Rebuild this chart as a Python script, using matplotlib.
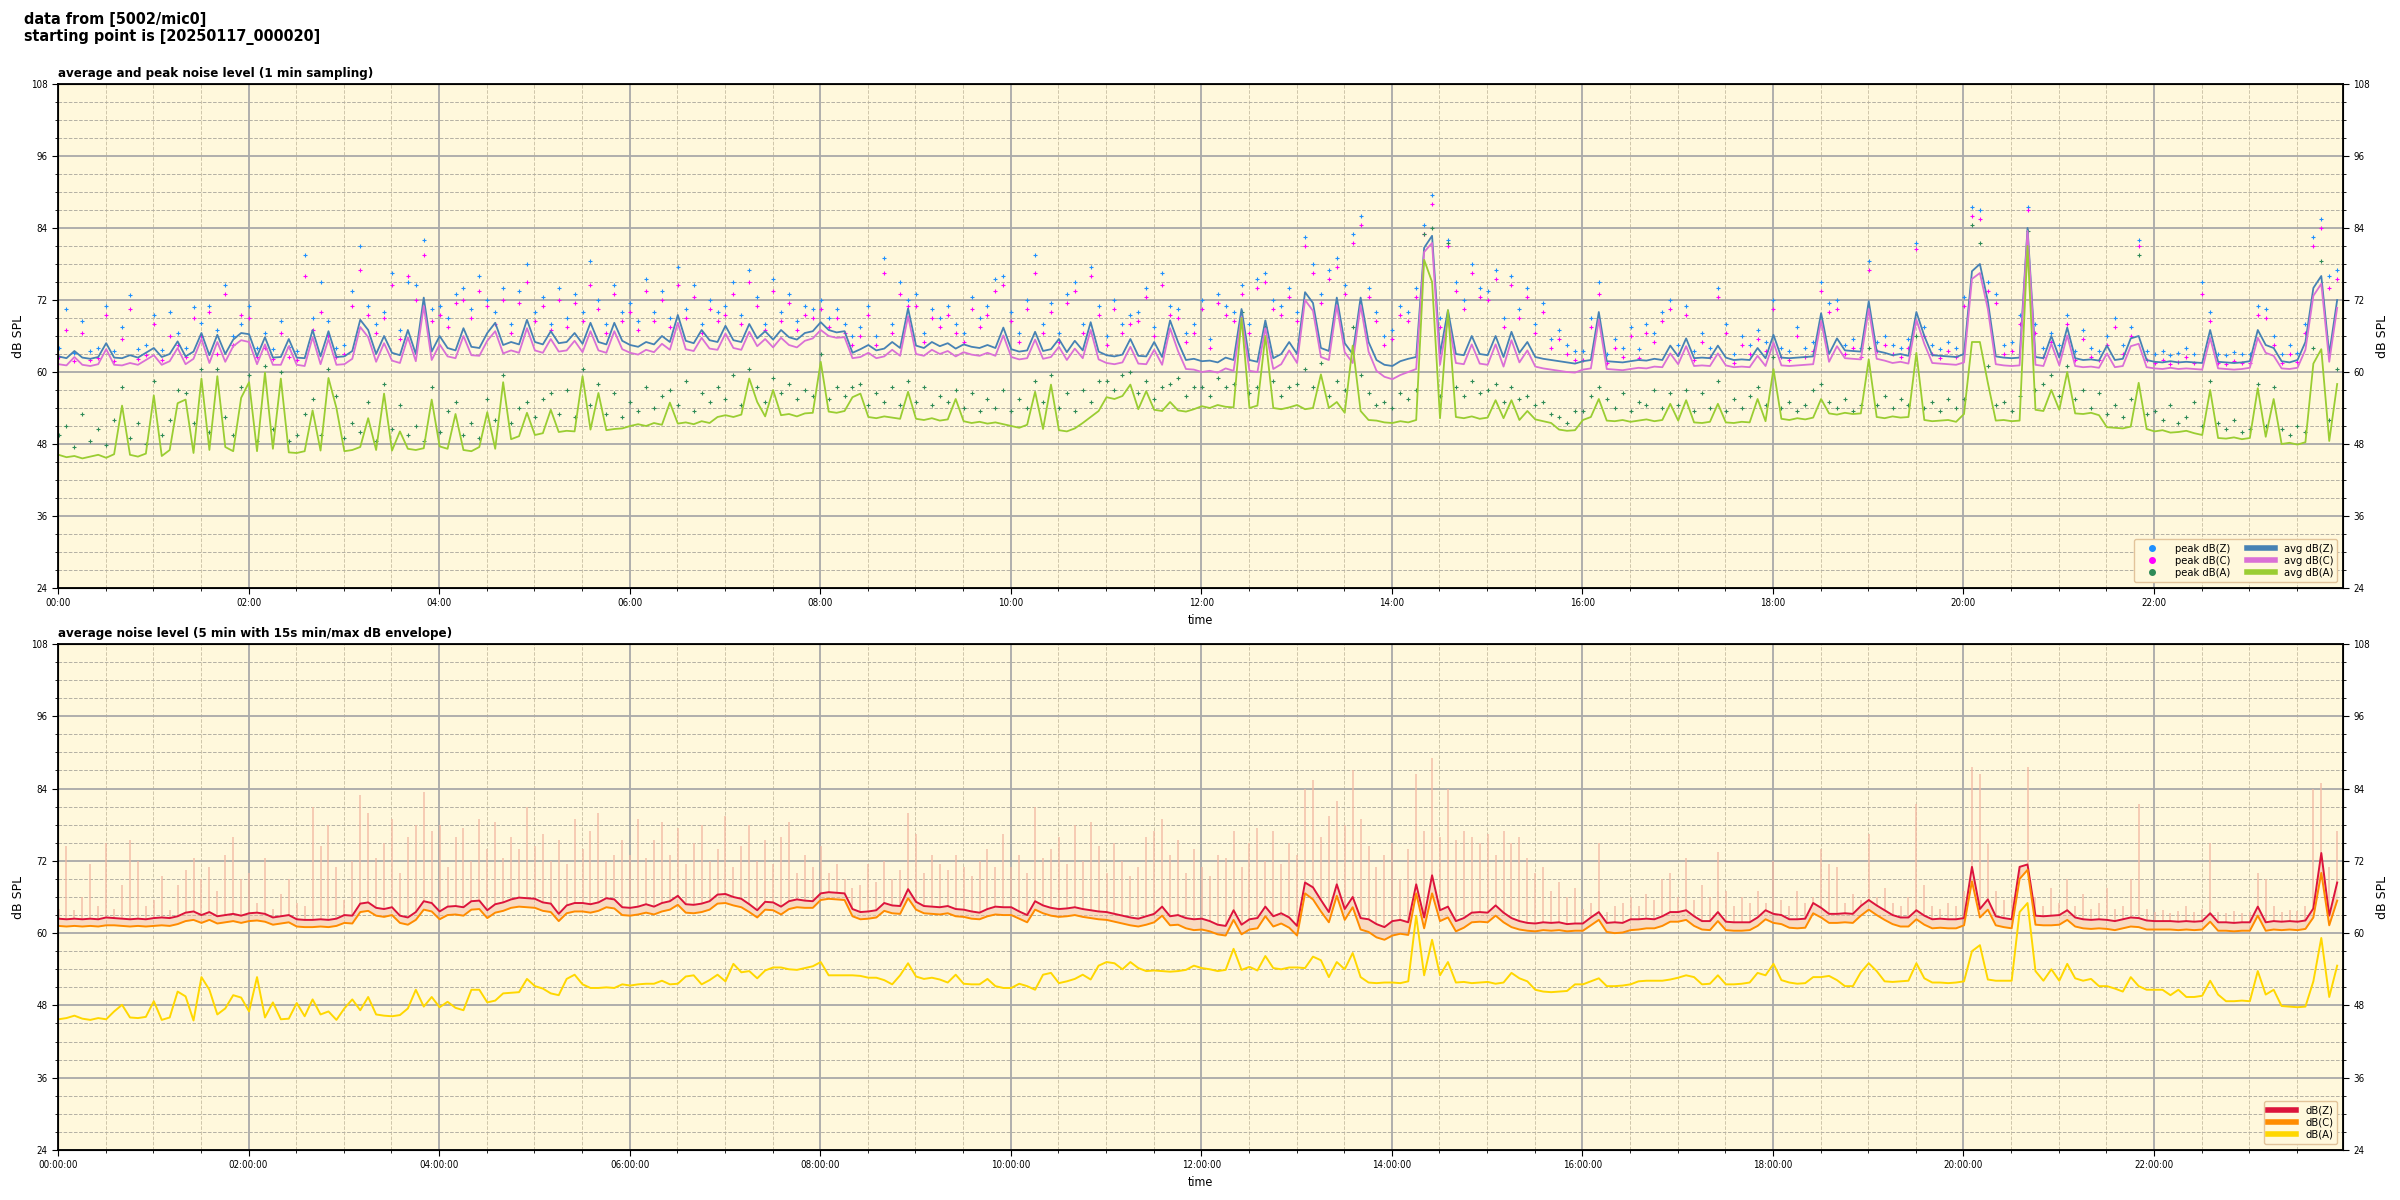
import numpy as np
import pandas as pd
import matplotlib
matplotlib.use('Agg')
import matplotlib.pyplot as plt
import matplotlib.dates as mdates
from matplotlib.ticker import MultipleLocator
from matplotlib.lines import Line2D

# ---------------- data (5-minute grid, 00:00:20 .. 23:55:20) ----------------
# top panel: 1-min sampling, average levels
avg_z = [
 62.6, 62.3, 63.5, 62.4, 62.2, 62.5, 64.8, 62.4, 62.3, 62.8, 62.4, 63.2,
 64.0, 62.5, 63.0, 65.1, 62.6, 63.4, 66.5, 62.8, 66.2, 63.0, 65.4, 66.5,
 66.3, 62.6, 65.8, 62.4, 62.5, 65.5, 62.4, 62.3, 67.0, 62.6, 66.8, 62.5,
 62.6, 63.5, 68.7, 67.0, 63.0, 66.0, 63.2, 62.8, 67.0, 63.0, 72.4, 63.4,
 66.0, 64.0, 63.6, 67.3, 64.2, 64.0, 66.5, 68.2, 64.5, 65.0, 64.6, 68.7,
 65.0, 64.6, 66.8, 64.8, 65.0, 66.5, 64.7, 68.2, 65.0, 64.6, 68.2, 65.2,
 64.5, 64.2, 65.0, 64.6, 66.0, 65.0, 69.5, 65.2, 64.8, 67.0, 65.3, 65.0,
 67.7, 65.3, 65.0, 68.0, 65.6, 66.8, 65.4, 67.0, 65.8, 65.4, 66.5, 66.8,
 68.3, 67.0, 66.6, 66.8, 63.2, 63.8, 64.5, 63.6, 63.9, 65.0, 64.0, 70.6,
 64.4, 64.0, 65.0, 64.3, 64.8, 63.9, 64.6, 64.2, 64.0, 64.5, 64.0, 67.4,
 63.8, 63.4, 63.6, 66.7, 63.5, 63.8, 65.5, 63.3, 65.2, 63.6, 68.3, 63.4,
 62.8, 62.6, 62.9, 65.5, 62.7, 62.6, 65.0, 62.5, 68.6, 65.0, 62.0, 62.2,
 61.8, 61.9, 61.6, 62.4, 62.0, 70.5, 62.0, 61.7, 68.6, 62.3, 63.0, 65.0,
 63.0, 73.3, 71.5, 64.0, 63.5, 72.4, 64.8, 63.0, 72.4, 65.0, 62.0, 61.2,
 61.0, 61.8, 62.2, 62.5, 80.7, 82.7, 63.0, 70.3, 63.0, 62.8, 66.0, 63.0,
 62.8, 66.0, 62.5, 66.7, 63.2, 65.0, 62.5, 62.2, 62.0, 61.8, 61.6, 61.4,
 61.8, 62.0, 70.0, 61.8, 61.7, 61.6, 61.8, 62.0, 61.9, 62.2, 62.0, 64.4,
 62.6, 65.6, 62.3, 62.4, 62.3, 64.4, 62.4, 62.0, 62.1, 62.0, 64.0, 62.3,
 66.2, 62.4, 62.3, 62.4, 62.5, 62.6, 69.8, 63.0, 65.6, 63.6, 63.5, 63.4,
 71.8, 63.5, 63.2, 62.8, 63.0, 62.7, 70.0, 66.0, 62.8, 62.7, 62.6, 62.5,
 63.0, 76.8, 78.0, 71.8, 62.6, 62.4, 62.3, 62.4, 84.0, 62.5, 62.3, 66.0,
 62.4, 67.4, 62.3, 62.0, 62.1, 61.9, 64.4, 62.0, 62.2, 65.6, 66.0, 62.0,
 61.7, 61.6, 61.8, 61.6, 61.7, 61.6, 61.5, 67.0, 61.7, 61.6, 61.5, 61.6,
 61.8, 67.0, 64.5, 64.0, 61.8, 61.6, 62.0, 65.0, 74.0, 76.0, 63.0, 72.0,
]
avg_c = [
 61.3, 61.1, 62.5, 61.2, 61.0, 61.3, 63.8, 61.2, 61.1, 61.5, 61.2, 62.0,
 62.8, 61.2, 61.8, 64.0, 61.3, 62.2, 65.5, 61.5, 65.0, 61.7, 64.3, 65.3,
 65.0, 61.3, 64.6, 61.2, 61.2, 64.3, 61.2, 61.0, 65.8, 61.3, 65.5, 61.2,
 61.3, 62.2, 67.5, 65.8, 61.7, 64.8, 61.9, 61.5, 65.8, 61.8, 71.0, 62.0,
 64.6, 62.6, 62.3, 66.0, 62.8, 62.7, 65.2, 66.8, 63.1, 63.6, 63.2, 67.3,
 63.6, 63.2, 65.5, 63.4, 63.6, 65.2, 63.3, 66.8, 63.6, 63.2, 66.8, 63.8,
 63.2, 62.9, 63.7, 63.3, 64.7, 63.7, 68.2, 63.8, 63.5, 65.7, 63.9, 63.7,
 66.4, 64.0, 63.7, 66.7, 64.3, 65.5, 64.1, 65.7, 64.5, 64.1, 65.2, 65.6,
 67.0, 66.0, 65.7, 65.8, 62.3, 62.5, 63.2, 62.3, 62.6, 63.7, 62.7, 69.3,
 63.0, 62.7, 63.7, 63.0, 63.5, 62.6, 63.3, 62.9, 62.7, 63.2, 62.7, 66.1,
 62.5, 62.1, 62.3, 65.4, 62.2, 62.5, 64.2, 62.0, 63.9, 62.3, 67.0, 62.1,
 61.5, 61.3, 61.6, 64.2, 61.4, 61.3, 63.7, 61.2, 67.3, 63.5, 60.5, 60.4,
 60.0, 60.2, 59.9, 60.6, 60.2, 69.2, 60.2, 60.0, 67.3, 60.5, 61.3, 63.6,
 61.5, 72.0, 70.2, 62.5, 62.0, 71.1, 63.3, 61.5, 71.1, 63.4, 60.2, 59.2,
 58.8, 59.5, 60.0, 60.5, 80.0, 81.5, 61.2, 69.0, 61.5, 61.3, 64.6, 61.4,
 61.2, 64.6, 60.9, 65.3, 61.6, 63.6, 60.9, 60.6, 60.4, 60.2, 60.0, 59.9,
 60.4, 60.6, 68.7, 60.5, 60.4, 60.3, 60.5, 60.7, 60.6, 60.9, 60.8, 63.1,
 61.3, 64.3, 61.0, 61.1, 61.0, 63.1, 61.1, 60.8, 60.9, 60.8, 62.7, 61.0,
 64.9, 61.1, 61.0, 61.1, 61.2, 61.3, 68.5, 61.7, 64.3, 62.3, 62.2, 62.1,
 70.5, 62.2, 61.9, 61.5, 61.7, 61.4, 68.7, 64.7, 61.5, 61.4, 61.3, 61.2,
 61.6, 75.5, 76.5, 70.5, 61.3, 61.1, 61.0, 61.1, 83.5, 61.2, 61.0, 64.7,
 61.1, 66.1, 61.0, 60.8, 60.9, 60.7, 63.1, 60.8, 61.0, 64.3, 64.7, 60.8,
 60.6, 60.5, 60.7, 60.5, 60.6, 60.5, 60.4, 65.7, 60.6, 60.5, 60.4, 60.5,
 60.7, 65.7, 63.2, 62.7, 60.6, 60.5, 60.7, 63.7, 72.7, 74.7, 61.7, 70.7,
]
avg_a = [
 46.2, 45.8, 46.0, 45.6, 45.9, 46.2, 45.7, 46.3, 54.4, 46.2, 45.9, 46.4,
 56.1, 46.0, 47.0, 54.8, 55.4, 46.5, 58.9, 47.0, 59.3, 47.5, 46.8, 55.7,
 58.3, 46.8, 59.9, 47.2, 58.9, 46.6, 46.5, 46.8, 53.6, 46.9, 59.0, 54.0,
 46.8, 47.0, 47.5, 52.3, 47.0, 56.4, 46.9, 50.1, 47.2, 47.0, 47.3, 55.4,
 47.6, 47.2, 53.0, 47.0, 46.8, 47.5, 53.3, 47.2, 58.3, 48.8, 49.3, 53.2,
 49.5, 49.8, 53.7, 50.0, 50.2, 50.1, 59.3, 50.4, 56.5, 50.3, 50.5, 50.6,
 51.0, 51.3, 51.0, 51.5, 51.2, 54.9, 51.4, 51.6, 51.3, 51.8, 51.5, 52.5,
 52.8, 52.5, 52.9, 58.9, 55.0, 52.6, 57.0, 52.8, 53.0, 52.6, 53.1, 53.2,
 61.7, 53.4, 53.2, 53.5, 55.8, 56.4, 52.5, 52.3, 52.6, 52.4, 52.2, 56.7,
 52.2, 52.0, 52.3, 51.9, 52.1, 55.5, 51.8, 51.5, 51.7, 51.4, 51.6, 51.3,
 51.0, 50.7, 51.2, 56.7, 50.5, 57.9, 50.3, 50.1, 50.6, 51.5, 52.5, 53.5,
 55.8, 55.5, 56.0, 57.9, 53.8, 56.8, 53.7, 53.5, 55.0, 53.6, 53.4, 53.8,
 54.3, 54.0, 54.5, 54.2, 54.1, 69.0, 54.0, 54.4, 66.0, 54.0, 53.8, 54.1,
 54.5, 53.8, 54.0, 59.6, 54.0, 55.0, 53.2, 64.4, 53.5, 52.0, 51.9, 51.6,
 51.5, 51.8, 51.6, 52.0, 78.7, 75.0, 52.3, 70.3, 52.5, 52.3, 52.6, 52.2,
 52.4, 55.3, 52.3, 55.3, 52.0, 53.5, 52.1, 51.8, 51.5, 50.4, 50.2, 50.3,
 52.0, 52.5, 55.5, 51.9, 51.8, 52.0, 51.7, 51.9, 52.1, 51.8, 52.0, 54.7,
 51.9, 55.3, 51.6, 51.5, 51.7, 54.7, 51.6, 51.5, 51.7, 51.6, 55.5, 51.8,
 60.5, 52.2, 52.0, 52.3, 52.1, 52.4, 55.5, 53.1, 52.9, 53.2, 53.0, 53.1,
 62.1, 52.5, 52.3, 52.6, 52.4, 52.5, 63.2, 52.0, 51.8, 51.9, 52.0, 51.7,
 53.0, 65.0, 65.0, 58.2, 51.9, 52.0, 51.8, 51.9, 81.0, 53.7, 53.5, 57.0,
 53.7, 60.0, 53.1, 53.0, 53.2, 52.8, 50.8, 50.7, 50.6, 50.9, 58.2, 50.5,
 50.1, 50.3, 49.9, 50.0, 50.2, 49.8, 49.5, 57.0, 49.0, 48.9, 49.1, 48.8,
 49.0, 57.3, 49.2, 55.5, 48.0, 48.2, 47.9, 48.3, 61.4, 63.8, 48.5, 58.0,
]
# top panel: peak levels
peak_z = [
 64.0, 70.5, 63.2, 68.5, 63.5, 64.0, 71.0, 63.5, 67.5, 72.8, 63.8, 64.5,
 69.5, 63.6, 70.0, 66.5, 64.0, 70.8, 68.2, 71.0, 67.0, 74.5, 66.0, 68.0,
 71.0, 64.0, 66.5, 63.8, 68.5, 64.2, 63.5, 79.5, 69.0, 75.0, 68.5, 64.0,
 64.5, 73.5, 81.0, 71.0, 68.0, 70.0, 76.5, 67.0, 75.0, 74.5, 82.0, 70.5,
 71.0, 69.0, 73.0, 74.0, 70.5, 76.0, 72.0, 70.0, 74.0, 68.0, 73.5, 78.0,
 70.0, 72.5, 68.0, 74.0, 69.0, 73.0, 70.0, 78.5, 72.0, 68.0, 74.5, 70.0,
 71.5, 68.5, 75.5, 70.0, 73.5, 69.0, 77.5, 70.5, 74.5, 68.0, 72.0, 70.0,
 71.0, 75.0, 69.5, 77.0, 72.5, 68.0, 75.5, 70.0, 73.0, 68.5, 71.0, 70.5,
 72.0, 69.0, 70.5, 68.0, 66.0, 67.5, 71.0, 66.0, 79.0, 68.0, 75.0, 72.0,
 73.0, 66.5, 70.5, 69.0, 71.0, 68.0, 66.5, 72.5, 69.0, 71.0, 75.5, 76.0,
 70.0, 66.5, 72.0, 79.5, 68.0, 71.5, 66.5, 73.0, 75.0, 68.0, 77.5, 71.0,
 66.0, 72.0, 68.0, 69.5, 70.0, 74.0, 67.5, 76.5, 71.0, 70.5, 66.5, 68.0,
 72.0, 65.5, 73.0, 71.0, 70.0, 74.5, 68.0, 75.5, 76.5, 72.0, 71.0, 74.0,
 70.0, 82.5, 78.0, 73.0, 77.0, 79.0, 74.5, 83.0, 86.0, 74.0, 70.0, 66.0,
 67.0, 71.0, 70.0, 74.0, 84.5, 89.5, 69.0, 82.0, 75.0, 72.0, 78.0, 74.0,
 73.5, 77.0, 69.0, 76.0, 70.5, 74.0, 68.0, 71.5, 65.5, 67.0, 64.5, 63.5,
 63.5, 69.0, 75.0, 63.0, 65.5, 64.0, 67.5, 63.8, 68.0, 66.5, 70.0, 72.0,
 64.5, 71.0, 63.5, 66.5, 64.0, 74.0, 68.0, 63.0, 66.0, 64.5, 67.0, 65.0,
 72.0, 64.0, 63.5, 67.5, 64.0, 65.0, 75.0, 71.5, 72.0, 64.5, 65.5, 64.0,
 78.5, 65.0, 66.0, 64.5, 64.0, 65.5, 81.5, 67.5, 64.5, 63.8, 65.0, 64.0,
 72.5, 87.5, 87.0, 75.0, 73.0, 64.5, 65.0, 69.5, 87.5, 68.0, 64.0, 66.5,
 64.5, 69.5, 63.5, 67.0, 64.0, 63.5, 66.0, 69.0, 64.5, 67.5, 82.0, 63.5,
 63.0, 63.5, 62.8, 63.2, 64.0, 63.0, 75.0, 70.0, 63.0, 62.8, 63.4, 63.0,
 63.0, 71.0, 70.5, 66.0, 63.0, 64.5, 63.2, 68.0, 82.5, 85.5, 76.0, 77.0,
]
peak_c = [
 62.5, 67.0, 61.9, 66.5, 62.0, 62.3, 69.5, 61.8, 65.5, 70.5, 62.2, 62.8,
 68.0, 62.0, 66.0, 64.5, 62.5, 69.0, 66.0, 70.0, 63.0, 73.0, 64.5, 69.5,
 69.0, 62.5, 64.0, 62.2, 66.5, 62.5, 62.0, 76.0, 67.0, 70.0, 66.0, 62.5,
 63.0, 71.0, 77.0, 69.5, 66.5, 69.0, 74.5, 65.5, 76.0, 72.0, 79.5, 68.5,
 69.5, 67.5, 71.5, 72.0, 69.0, 73.5, 71.0, 68.0, 72.0, 66.5, 71.5, 75.0,
 68.5, 71.0, 67.0, 72.0, 67.5, 71.5, 68.5, 74.5, 70.5, 66.5, 73.0, 68.5,
 70.0, 67.0, 73.5, 68.5, 72.0, 67.5, 74.5, 69.0, 72.5, 66.5, 70.5, 68.5,
 69.5, 73.0, 68.0, 75.0, 71.0, 67.0, 73.5, 68.5, 71.5, 67.0, 69.5, 69.0,
 70.5, 67.5, 69.0, 66.5, 64.5, 66.0, 69.5, 64.5, 76.5, 66.5, 73.0, 71.0,
 71.0, 65.0, 69.0, 67.5, 69.5, 66.5, 65.0, 70.5, 67.5, 69.5, 73.5, 74.5,
 68.5, 65.0, 70.5, 76.5, 66.5, 70.0, 65.0, 71.5, 73.5, 66.5, 76.0, 69.5,
 64.5, 70.5, 66.5, 68.0, 68.5, 72.5, 66.0, 74.5, 69.5, 69.0, 65.0, 66.5,
 70.5, 64.0, 71.5, 69.5, 68.5, 73.0, 66.5, 74.0, 75.0, 70.5, 69.5, 72.5,
 68.5, 81.0, 76.5, 71.5, 75.5, 77.5, 73.0, 81.5, 84.5, 72.5, 68.5, 64.5,
 65.5, 69.5, 68.5, 72.5, 83.0, 88.0, 67.5, 81.0, 73.5, 70.5, 76.5, 72.5,
 72.0, 75.5, 67.5, 74.5, 69.0, 72.5, 66.5, 70.0, 64.0, 65.5, 63.0, 62.0,
 62.0, 67.5, 73.0, 61.5, 64.0, 62.5, 66.0, 62.3, 66.5, 65.0, 68.5, 70.5,
 63.0, 69.5, 62.0, 65.0, 62.5, 72.5, 66.5, 61.5, 64.5, 63.0, 65.5, 63.5,
 70.5, 62.5, 62.0, 66.0, 62.5, 63.5, 73.5, 70.0, 70.5, 63.0, 64.0, 62.5,
 77.0, 63.5, 64.5, 63.0, 62.5, 64.0, 80.5, 66.0, 63.0, 62.3, 63.5, 62.5,
 71.0, 86.0, 85.5, 73.5, 71.5, 63.0, 63.5, 68.0, 87.0, 66.5, 62.5, 65.0,
 63.0, 68.0, 62.0, 65.5, 62.5, 62.0, 64.5, 67.5, 63.0, 66.0, 81.0, 62.0,
 61.5, 62.0, 61.3, 61.7, 62.5, 61.5, 73.0, 68.5, 61.5, 61.3, 61.9, 61.5,
 61.5, 69.5, 69.0, 64.5, 61.5, 63.0, 61.7, 66.5, 81.0, 84.0, 74.0, 75.5,
]
peak_a = [
 49.5, 51.0, 47.5, 53.0, 48.5, 50.5, 47.8, 52.0, 57.5, 49.0, 51.5, 48.0,
 58.5, 49.5, 52.0, 57.0, 56.5, 51.5, 60.5, 50.0, 60.5, 52.5, 49.5, 57.5,
 59.5, 48.5, 61.0, 50.5, 60.0, 48.5, 49.5, 53.0, 55.5, 49.5, 60.5, 56.0,
 49.0, 51.5, 50.0, 55.0, 48.5, 58.0, 50.5, 54.5, 49.5, 51.0, 48.5, 57.5,
 50.0, 53.5, 55.0, 49.5, 51.5, 49.0, 55.5, 52.0, 59.5, 51.5, 54.0, 55.0,
 52.5, 55.5, 56.5, 53.0, 57.0, 52.5, 60.5, 54.5, 58.0, 53.0, 56.5, 52.5,
 55.0, 53.5, 57.5, 54.0, 56.0, 57.0, 54.5, 58.5, 53.5, 56.5, 55.0, 57.5,
 55.5, 59.5, 54.5, 60.5, 57.5, 55.0, 59.0, 56.5, 58.0, 55.5, 57.0, 56.0,
 63.0, 55.5, 57.5, 56.0, 57.5, 58.0, 54.5, 56.5, 55.0, 57.5, 54.5, 58.5,
 55.0, 57.5, 54.5, 56.0, 55.0, 57.0, 54.0, 56.5, 53.5, 55.5, 54.0, 57.0,
 53.5, 55.5, 54.0, 58.5, 55.0, 59.5, 54.0, 56.5, 53.5, 57.0, 55.0, 58.5,
 58.5, 57.0, 59.5, 60.0, 56.5, 58.5, 55.5, 57.5, 58.0, 59.0, 56.0, 57.5,
 57.5, 56.0, 59.0, 57.5, 58.0, 70.0, 56.5, 57.5, 67.5, 58.5, 56.0, 57.5,
 58.0, 60.5, 57.5, 61.5, 56.0, 58.5, 57.0, 67.5, 59.5, 56.5, 54.5, 55.0,
 54.0, 56.5, 55.5, 57.0, 83.0, 84.0, 56.0, 81.5, 57.5, 56.0, 58.5, 56.5,
 57.0, 58.0, 55.0, 57.5, 55.5, 56.0, 54.5, 55.0, 53.0, 52.5, 51.5, 53.5,
 53.5, 56.0, 57.5, 55.5, 54.0, 56.5, 53.5, 55.0, 54.5, 57.0, 54.0, 56.5,
 54.5, 57.0, 53.5, 56.5, 54.0, 58.5, 53.5, 55.5, 54.0, 56.0, 57.5, 54.5,
 62.5, 54.0, 55.0, 53.5, 54.5, 57.0, 58.0, 55.0, 54.0, 55.5, 53.5, 54.5,
 64.0, 54.5, 56.0, 54.0, 55.5, 54.5, 66.0, 54.0, 55.0, 53.5, 55.5, 54.0,
 55.5, 84.5, 81.5, 61.0, 54.5, 55.0, 53.5, 56.0, 83.5, 57.0, 58.0, 59.5,
 56.0, 61.0, 55.5, 57.0, 54.0, 56.5, 53.0, 54.5, 52.5, 55.5, 79.5, 53.0,
 53.5, 52.0, 54.5, 51.5, 52.5, 55.0, 51.0, 58.5, 51.5, 50.5, 52.0, 50.0,
 50.5, 58.0, 51.0, 57.5, 50.5, 49.5, 51.0, 50.0, 64.0, 78.5, 52.0, 60.5,
]
# bottom panel: 5-min averages
b_z = [
 62.4, 62.3, 62.4, 62.3, 62.4, 62.3, 62.6, 62.5, 62.4, 62.3, 62.4, 62.3,
 62.5, 62.6, 62.5, 62.8, 63.4, 63.6, 63.0, 63.5, 62.8, 63.0, 63.2, 62.9,
 63.3, 63.4, 63.2, 62.6, 62.8, 63.0, 62.3, 62.2, 62.2, 62.3, 62.2, 62.4,
 63.0, 62.9, 64.9, 65.1, 64.2, 64.0, 64.3, 62.9, 62.6, 63.5, 65.3, 65.0,
 63.6, 64.4, 64.5, 64.3, 65.3, 65.4, 63.8, 64.8, 65.1, 65.6, 65.9, 65.8,
 65.7, 65.1, 64.9, 63.2, 64.6, 65.0, 65.0, 64.8, 65.1, 65.8, 65.6, 64.3,
 64.2, 64.4, 64.8, 64.4, 65.0, 65.3, 66.2, 64.8, 64.7, 64.9, 65.3, 66.4,
 66.5, 66.0, 65.7, 64.8, 63.8, 65.2, 65.1, 64.4, 65.3, 65.6, 65.4, 65.3,
 66.6, 66.8, 66.7, 66.6, 64.0, 63.5, 63.6, 63.8, 65.0, 64.6, 64.5, 67.3,
 65.2, 64.5, 64.4, 64.3, 64.5, 64.0, 63.9, 63.6, 63.4, 64.0, 64.4, 64.3,
 64.3, 63.6, 63.0, 65.3, 64.6, 64.2, 64.0, 64.1, 64.3, 64.0, 63.8, 63.6,
 63.5, 63.2, 62.9, 62.6, 62.4, 62.8, 63.2, 64.4, 62.8, 63.0, 62.5, 62.3,
 62.4, 62.0, 61.4, 61.2, 63.8, 61.4, 62.3, 62.5, 64.4, 62.8, 63.3, 62.6,
 61.2, 68.4, 67.6, 65.5, 63.5, 68.1, 64.0, 66.0, 62.5, 62.3, 61.5, 61.0,
 62.0, 62.2, 61.8, 68.1, 62.6, 69.6, 63.8, 64.4, 62.0, 62.5, 63.4, 63.5,
 63.4, 64.6, 63.4, 62.5, 62.0, 61.7, 61.6, 61.8, 61.7, 61.8, 61.5, 61.6,
 61.6, 62.6, 63.5, 61.7, 61.8, 61.7, 62.3, 62.3, 62.4, 62.3, 62.8, 63.5,
 63.5, 63.8, 62.8, 62.0, 62.0, 63.5, 61.9, 61.8, 61.8, 61.8, 62.6, 63.8,
 63.2, 63.0, 62.3, 62.3, 62.4, 65.0, 64.2, 63.2, 63.2, 63.3, 63.2, 64.5,
 65.5, 64.6, 63.8, 63.0, 62.6, 62.6, 63.8, 62.9, 62.3, 62.4, 62.3, 62.3,
 62.5, 71.0, 64.0, 65.6, 62.8, 62.5, 62.3, 71.0, 71.4, 62.9, 62.8, 62.9,
 63.0, 63.8, 62.6, 62.3, 62.2, 62.3, 62.2, 62.0, 62.3, 62.6, 62.5, 62.1,
 62.0, 62.0, 62.0, 61.9, 62.0, 61.9, 62.0, 63.3, 61.8, 61.8, 61.7, 61.8,
 61.8, 64.4, 61.8, 62.0, 61.9, 62.0, 61.9, 62.1, 64.1, 73.3, 62.9, 68.4,
]
b_c = [
 61.2, 61.1, 61.2, 61.1, 61.2, 61.1, 61.3, 61.3, 61.2, 61.1, 61.2, 61.1,
 61.2, 61.3, 61.2, 61.5, 62.0, 62.2, 61.7, 62.2, 61.6, 61.8, 62.0, 61.7,
 62.0, 62.1, 61.9, 61.4, 61.6, 61.8, 61.1, 61.0, 61.0, 61.1, 61.0, 61.2,
 61.7, 61.6, 63.5, 63.7, 62.9, 62.7, 63.0, 61.7, 61.4, 62.2, 63.9, 63.6,
 62.3, 63.0, 63.1, 62.9, 63.9, 64.0, 62.5, 63.4, 63.7, 64.2, 64.4, 64.3,
 64.2, 63.7, 63.5, 62.0, 63.3, 63.6, 63.6, 63.4, 63.7, 64.3, 64.1, 63.0,
 62.9, 63.1, 63.4, 63.1, 63.6, 63.9, 64.7, 63.4, 63.3, 63.5, 63.9, 64.9,
 65.0, 64.6, 64.3, 63.5, 62.6, 63.9, 63.8, 63.1, 64.0, 64.3, 64.2, 64.2,
 65.5, 65.7, 65.6, 65.5, 62.8, 62.3, 62.4, 62.6, 63.7, 63.3, 63.2, 65.8,
 63.9, 63.3, 63.2, 63.1, 63.3, 62.8, 62.7, 62.4, 62.3, 62.8, 63.1, 63.0,
 63.0, 62.4, 61.8, 63.9, 63.3, 62.9, 62.7, 62.8, 63.0, 62.7, 62.5, 62.3,
 62.2, 61.9, 61.6, 61.3, 61.1, 61.4, 61.8, 62.9, 61.3, 61.4, 60.8, 60.5,
 60.6, 60.3, 59.8, 59.6, 62.2, 59.8, 60.6, 60.8, 62.8, 61.1, 61.6, 60.9,
 59.6, 66.6, 65.6, 63.6, 61.8, 66.2, 62.2, 64.3, 60.6, 60.2, 59.3, 58.9,
 59.6, 59.9, 59.7, 66.6, 60.8, 66.6, 62.0, 62.6, 60.3, 60.9, 61.8, 61.9,
 61.8, 62.9, 61.8, 61.0, 60.6, 60.4, 60.3, 60.5, 60.4, 60.5, 60.3, 60.4,
 60.4, 61.3, 62.2, 60.2, 60.0, 60.1, 60.5, 60.6, 60.8, 60.8, 61.2, 61.9,
 61.9, 62.2, 61.2, 60.6, 60.5, 62.0, 60.5, 60.4, 60.4, 60.5, 61.2, 62.3,
 61.7, 61.5, 60.9, 60.8, 60.9, 63.3, 62.6, 61.7, 61.7, 61.8, 61.7, 62.9,
 63.9, 63.0, 62.2, 61.5, 61.1, 61.1, 62.3, 61.4, 60.8, 60.9, 60.8, 60.8,
 61.3, 68.6, 62.6, 63.9, 61.3, 61.0, 60.8, 69.0, 70.5, 61.4, 61.3, 61.3,
 61.4, 62.2, 61.1, 60.8, 60.7, 60.8, 60.7, 60.5, 60.8, 61.1, 61.0, 60.6,
 60.6, 60.6, 60.6, 60.5, 60.6, 60.5, 60.6, 61.9, 60.4, 60.4, 60.3, 60.4,
 60.4, 62.9, 60.4, 60.6, 60.5, 60.6, 60.5, 60.7, 62.6, 70.0, 61.3, 65.4,
]
b_a = [
 45.7, 45.9, 46.3, 45.8, 45.6, 45.9, 45.7, 47.0, 48.1, 46.0, 45.9, 46.1,
 48.7, 45.6, 46.0, 50.3, 49.5, 45.5, 52.7, 50.6, 46.5, 47.5, 49.7, 49.3,
 47.0, 52.7, 46.0, 48.5, 45.7, 45.8, 48.4, 46.2, 49.0, 46.5, 47.0, 45.6,
 47.5, 49.0, 47.2, 49.4, 46.5, 46.3, 46.2, 46.4, 47.5, 50.6, 47.8, 49.4,
 47.7, 48.6, 47.6, 47.2, 50.6, 50.6, 48.5, 48.8, 50.0, 50.1, 50.2, 52.4,
 51.2, 50.8, 50.0, 49.7, 52.4, 53.1, 51.5, 50.9, 50.9, 51.0, 50.9, 51.5,
 51.3, 51.5, 51.6, 51.6, 52.1, 51.5, 51.6, 52.8, 53.0, 51.5, 52.2, 53.1,
 52.0, 54.9, 53.5, 53.7, 52.5, 53.8, 54.3, 54.3, 54.0, 53.9, 54.2, 54.5,
 55.2, 53.0, 53.0, 53.0, 53.0, 52.9, 52.6, 52.6, 52.2, 51.5, 53.0, 55.0,
 52.8, 52.4, 52.6, 52.3, 51.8, 53.1, 51.6, 51.5, 51.5, 52.4, 51.2, 50.9,
 50.9, 51.6, 51.2, 50.6, 53.1, 53.4, 51.7, 52.0, 52.4, 53.1, 52.3, 54.6,
 55.2, 55.0, 54.0, 55.2, 54.2, 53.7, 53.8, 53.7, 53.6, 53.7, 53.9, 54.6,
 54.2, 54.0, 53.7, 53.9, 57.4, 53.9, 54.4, 53.8, 56.2, 54.2, 54.0, 54.3,
 54.3, 54.2, 56.1, 55.5, 52.7, 55.2, 54.0, 56.7, 52.7, 51.8, 51.7, 51.8,
 51.8, 51.7, 52.0, 62.9, 53.0, 58.9, 53.0, 55.2, 51.8, 51.9, 51.7, 51.8,
 51.9, 51.6, 51.8, 53.4, 52.5, 52.0, 50.6, 50.3, 50.2, 50.3, 50.4, 51.5,
 51.5, 52.0, 52.5, 51.2, 51.2, 51.3, 51.5, 52.0, 52.1, 52.1, 52.1, 52.3,
 52.6, 53.0, 52.7, 51.5, 51.6, 53.0, 51.5, 51.5, 51.6, 51.8, 53.4, 53.0,
 54.9, 52.2, 51.8, 51.6, 51.7, 52.7, 52.7, 52.9, 52.2, 51.2, 51.2, 53.5,
 55.0, 53.7, 52.0, 51.9, 52.0, 52.1, 55.0, 52.5, 51.8, 51.8, 51.7, 51.8,
 52.0, 57.0, 58.0, 52.3, 52.1, 52.1, 52.1, 63.5, 65.0, 53.7, 52.1, 54.0,
 52.1, 54.9, 52.5, 52.1, 52.4, 51.2, 51.2, 50.8, 50.3, 52.7, 51.2, 50.6,
 50.6, 50.6, 49.7, 50.6, 49.4, 49.4, 49.6, 52.1, 49.8, 48.7, 48.7, 48.8,
 48.7, 53.7, 49.8, 50.6, 47.9, 47.8, 47.7, 47.8, 52.0, 59.2, 49.4, 54.6,
]
# bottom panel: 15 s max envelope
env_hi = [
 64.0, 74.5, 63.8, 66.0, 71.5, 64.5, 75.0, 64.0, 68.0, 75.5, 72.0, 64.5,
 65.5, 69.5, 63.8, 68.0, 70.5, 72.5, 69.0, 71.0, 67.0, 73.0, 76.0, 69.0,
 70.0, 65.0, 72.5, 64.0, 66.5, 69.0, 65.0, 64.5, 81.0, 74.5, 78.0, 71.0,
 65.5, 72.0, 83.0, 80.0, 72.5, 75.0, 79.0, 70.0, 76.0, 78.0, 83.5, 77.0,
 78.0, 71.0, 76.0, 77.5, 72.0, 79.0, 74.0, 78.5, 72.5, 76.0, 74.0, 81.0,
 74.5, 76.5, 72.0, 75.5, 71.5, 79.0, 74.0, 77.0, 80.0, 72.0, 73.0, 75.5,
 73.0, 79.0, 72.5, 75.5, 78.5, 73.0, 77.5, 71.5, 75.0, 78.0, 72.0, 74.0,
 79.5, 71.0, 74.5, 78.0, 72.0, 75.5, 71.5, 76.0, 78.5, 70.0, 73.0, 71.0,
 74.5, 70.0, 71.5, 69.0, 67.5, 68.0, 71.5, 68.5, 72.0, 69.0, 70.5, 80.0,
 76.5, 70.0, 73.0, 71.5, 70.5, 73.0, 71.0, 69.5, 72.0, 74.0, 71.0, 76.5,
 71.0, 73.0, 70.0, 81.0, 72.5, 74.0, 76.0, 71.5, 78.0, 72.0, 78.5, 74.5,
 70.0, 75.0, 72.0, 69.5, 71.0, 76.0, 77.0, 79.0, 73.0, 75.5, 70.0, 74.0,
 71.0, 69.5, 73.0, 72.5, 77.0, 71.0, 75.0, 77.5, 72.0, 77.0, 71.5, 75.0,
 73.0, 84.0, 85.5, 76.0, 79.5, 82.0, 78.0, 87.0, 79.0, 74.5, 71.0, 73.0,
 75.0, 69.0, 74.0, 86.5, 77.0, 89.0, 76.0, 84.0, 75.5, 77.0, 76.0, 75.0,
 76.5, 73.0, 77.0, 75.0, 76.0, 72.5, 70.0, 71.0, 67.0, 68.5, 66.0, 67.5,
 64.0, 65.0, 75.0, 63.5, 64.5, 65.0, 66.0, 64.5, 66.5, 65.5, 69.0, 70.0,
 66.0, 72.5, 65.5, 68.0, 66.0, 73.5, 67.0, 64.5, 66.0, 65.0, 67.0, 65.0,
 72.0, 65.5, 64.5, 67.0, 65.0, 66.0, 74.0, 71.5, 71.0, 65.0, 66.5, 65.5,
 76.5, 66.0, 67.5, 65.0, 64.5, 66.0, 81.5, 68.0, 64.5, 64.0, 65.0, 64.5,
 67.0, 87.5, 86.5, 75.0, 67.0, 65.5, 66.0, 69.0, 87.5, 66.0, 64.5, 67.5,
 65.0, 69.0, 64.5, 66.5, 64.0, 65.0, 67.5, 64.0, 64.5, 69.0, 81.5, 64.0,
 63.5, 63.8, 63.4, 63.6, 64.5, 63.5, 64.0, 75.0, 63.5, 63.3, 63.6, 63.4,
 63.5, 70.0, 69.0, 64.5, 63.5, 63.8, 63.6, 64.5, 84.0, 85.0, 71.0, 77.0,
]

main_title = 'data from [5002/mic0]\nstarting point is [20250117_000020]'
title_top = 'average and peak noise level (1 min sampling)'
title_bot = 'average noise level (5 min with 15s min/max dB envelope)'
labels_top = ['peak dB(Z)', 'peak dB(C)', 'peak dB(A)', 'avg dB(Z)', 'avg dB(C)', 'avg dB(A)']
labels_bot = ['dB(Z)', 'dB(C)', 'dB(A)']

for arr in (avg_z, avg_c, avg_a, peak_z, peak_c, peak_a, b_z, b_c, b_a, env_hi):
    assert len(arr) == 288

times = pd.date_range('2025-01-17 00:00:20', periods=len(avg_z), freq='5min')
x0 = pd.Timestamp('2025-01-17 00:00:00')
x1 = pd.Timestamp('2025-01-17 23:59:00')

COND = ['DejaVu Sans Condensed', 'Liberation Sans Narrow', 'DejaVu Sans']
plt.rcParams['font.family'] = COND
plt.rcParams['font.stretch'] = 'condensed'
NORMAL = dict(family=['DejaVu Sans'], stretch='normal')

BG = '#fff8dc'

fig = plt.figure(figsize=(24, 12), dpi=100)
ax1 = fig.add_axes([0.02417, 0.51, 0.95208, 0.42])
ax2 = fig.add_axes([0.02417, 0.04167, 0.95208, 0.42167])


def style(ax, fmt):
    ax.set_facecolor(BG)
    ax.set_ylim(24, 108)
    ax.set_xlim(x0, x1)
    ax.yaxis.set_major_locator(MultipleLocator(12))
    ax.yaxis.set_minor_locator(MultipleLocator(3))
    ax.xaxis.set_major_locator(mdates.HourLocator(byhour=range(0, 24, 2)))
    ax.xaxis.set_minor_locator(mdates.MinuteLocator(byminute=[0, 30]))
    ax.xaxis.set_major_formatter(mdates.DateFormatter(fmt))
    ax.set_axisbelow(True)
    ax.grid(which='major', color='#a9a9a9', lw=1.3, ls='-')
    ax.grid(which='minor', axis='y', color='#b4b0a4', lw=0.7, ls='--')
    ax.grid(which='minor', axis='x', color='#cfc6aa', lw=0.7, ls='--')
    ax.tick_params(which='major', labelsize=7, length=4)
    ax.tick_params(which='minor', length=2.5)
    for s in ax.spines.values():
        s.set_linewidth(1.3)
    ax.set_xlabel('time', fontsize=9)
    ax.set_ylabel('dB SPL', fontsize=9, fontdict=NORMAL)
    tw = ax.twinx()
    tw.set_ylim(24, 108)
    tw.yaxis.set_major_locator(MultipleLocator(12))
    tw.yaxis.set_minor_locator(MultipleLocator(3))
    tw.tick_params(which='major', labelsize=7, length=4)
    tw.tick_params(which='minor', length=2.5)
    tw.set_ylabel('dB SPL', fontsize=9, fontdict=NORMAL)
    return tw


tw1 = style(ax1, '%H:%M')
tw2 = style(ax2, '%H:%M:%S')

# ---- top panel ----
ax1.plot(times, peak_z, ls='none', marker='+', ms=3.2, mew=0.8, color='#1e90ff', zorder=3)
ax1.plot(times, peak_c, ls='none', marker='+', ms=3.2, mew=0.8, color='#ff00ff', zorder=3)
ax1.plot(times, peak_a, ls='none', marker='+', ms=3.2, mew=0.8, color='#2e8b57', zorder=3)
ax1.plot(times, avg_z, color='#4682b4', lw=1.3, zorder=4)
ax1.plot(times, avg_c, color='#da70d6', lw=1.3, zorder=4)
ax1.plot(times, avg_a, color='#9acd32', lw=1.3, zorder=4)
ax1.set_title(title_top, loc='left', fontsize=9.5, fontweight='bold', pad=5)

h_top = [
    Line2D([], [], ls='none', marker='o', ms=4, color='#1e90ff'),
    Line2D([], [], ls='none', marker='o', ms=4, color='#ff00ff'),
    Line2D([], [], ls='none', marker='o', ms=4, color='#2e8b57'),
    Line2D([], [], color='#4682b4', lw=4),
    Line2D([], [], color='#da70d6', lw=4),
    Line2D([], [], color='#9acd32', lw=4),
]
leg1 = tw1.legend(h_top, labels_top, loc='lower right', ncol=2,
                  prop=dict(family=['DejaVu Sans'], size=8),
                  facecolor=BG, edgecolor='#e2c49a', framealpha=1.0,
                  handlelength=2.5, columnspacing=1.5, borderpad=0.4,
                  labelspacing=0.2, fancybox=True)

# ---- bottom panel ----
ax2.fill_between(times, b_c, b_z, color='#f2b8a2', alpha=0.45, lw=0, zorder=2)
ax2.vlines(times, b_z, env_hi, color='#f2b8a2', alpha=0.7, lw=1.4, zorder=2)
ax2.plot(times, b_z, color='#dc143c', lw=1.4, zorder=4)
ax2.plot(times, b_c, color='#ff8c00', lw=1.4, zorder=4)
ax2.plot(times, b_a, color='#ffd700', lw=1.4, zorder=4)
ax2.set_title(title_bot, loc='left', fontsize=9.5, fontweight='bold', pad=5)

h_bot = [
    Line2D([], [], color='#dc143c', lw=4),
    Line2D([], [], color='#ff8c00', lw=4),
    Line2D([], [], color='#ffd700', lw=4),
]
leg2 = tw2.legend(h_bot, labels_bot, loc='lower right', ncol=1,
                  prop=dict(family=['DejaVu Sans'], size=8),
                  facecolor=BG, edgecolor='#e2c49a', framealpha=1.0,
                  handlelength=2.5, borderpad=0.4, labelspacing=0.2, fancybox=True)

fig.text(0.01, 0.99, main_title, ha='left', va='top', fontsize=11.5, fontweight='bold')

fig.savefig('out.png', dpi=100, facecolor='white')
